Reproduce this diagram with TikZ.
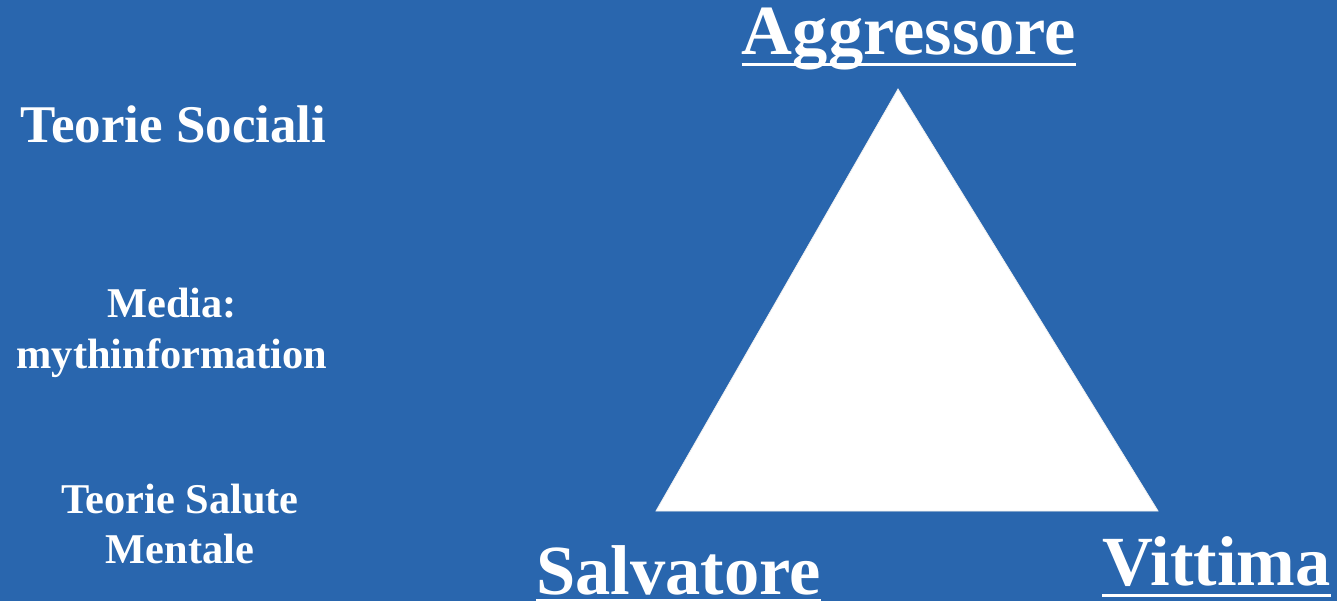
\documentclass[tikz,border=0pt]{standalone}
\usepackage{fontspec}
\setmainfont{Liberation Serif}
\usetikzlibrary{calc}
\definecolor{bgblue}{HTML}{2966AE}
\tikzset{
  lbl/.style={text=white, font=\bfseries, inner sep=0pt, anchor=base},
  big/.style={lbl, font=\bfseries\fontsize{70.5}{84}\selectfont},
  mid/.style={lbl, font=\bfseries\fontsize{53}{62}\selectfont},
  small/.style={lbl, font=\bfseries\fontsize{42.4}{50}\selectfont},
  uline/.style={white, line width=3pt}
}
\begin{document}
\begin{tikzpicture}[x=1pt,y=-1pt]
\fill[bgblue] (0,0) rectangle (1337,601);
\useasboundingbox (0,0) rectangle (1337,601);
% triangle
\fill[white, draw=white!88!gray, line width=0.8pt] (898,89) -- (656,511) -- (1158,511) -- cycle;
% left column
\node[mid] (soc) at (173.5,143) {Teorie Sociali};
\node[small] (media) at (172,317) {Media:};
\node[small] (myth) at (172,368) {mythinformation};
\node[small] (sal) at (180,513) {Teorie Salute};
\node[small] (ment) at (180,563) {Mentale};
% roles
\node[big] (agg) at (909,55) {Aggressore};
\node[big] (salv) at (678.5,594) {Salvatore};
\node[big] (vit) at (1216.5,585) {Vittima};
\draw[uline] ($(agg.base west)+(0,9.5)$) -- ($(agg.base east)+(0,9.5)$);
\draw[uline] ($(salv.base west)+(0,6.5)$) -- ($(salv.base east)+(0,6.5)$);
\draw[uline] ($(vit.base west)+(0,10.5)$) -- ($(vit.base east)+(0,10.5)$);
\end{tikzpicture}
\end{document}
